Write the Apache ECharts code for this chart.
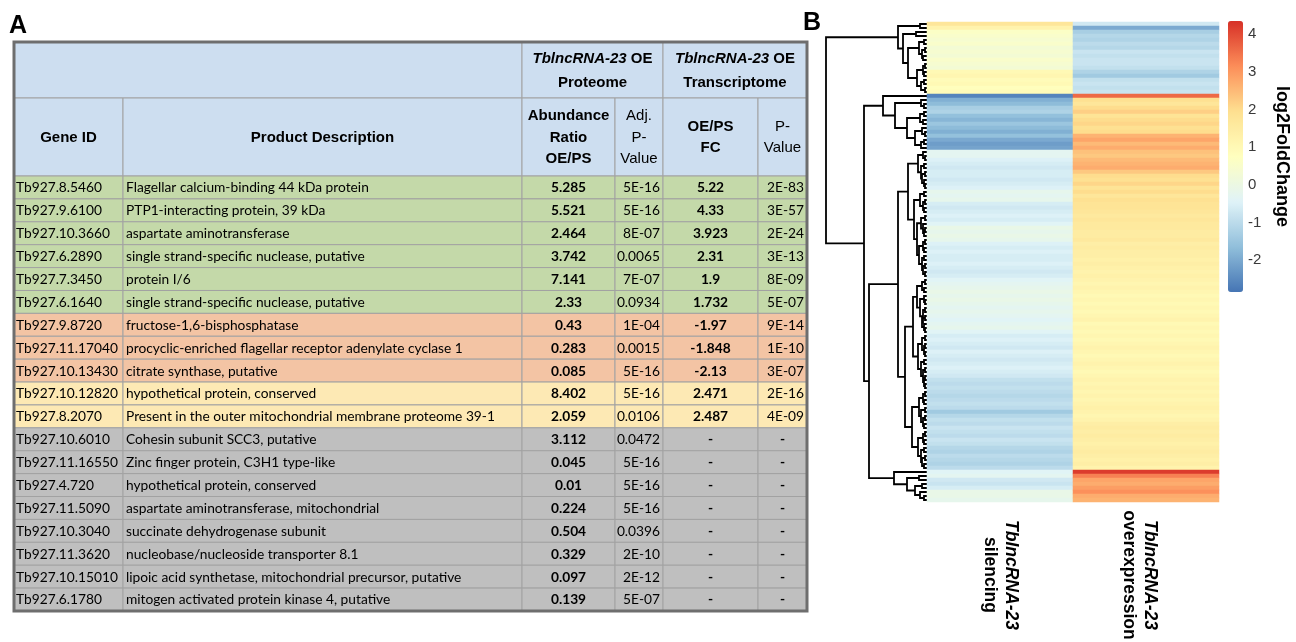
<!DOCTYPE html>
<html><head><meta charset="utf-8">
<script src="https://cdn.jsdelivr.net/npm/echarts@6/dist/echarts.min.js"></script>
<style>html,body{margin:0;padding:0;background:#fff}#c{width:1296px;height:642px}</style>
</head><body><div id="c"></div>
<script>
// ================= DATA =================
const geneIds = ['Tb927.8.5460','Tb927.9.6100','Tb927.10.3660','Tb927.6.2890','Tb927.7.3450','Tb927.6.1640',
  'Tb927.9.8720','Tb927.11.17040','Tb927.10.13430','Tb927.10.12820','Tb927.8.2070','Tb927.10.6010',
  'Tb927.11.16550','Tb927.4.720','Tb927.11.5090','Tb927.10.3040','Tb927.11.3620','Tb927.10.15010','Tb927.6.1780'];
const descriptions = ['Flagellar calcium-binding 44 kDa protein','PTP1-interacting protein, 39 kDa','aspartate aminotransferase',
  'single strand-specific nuclease, putative','protein I/6','single strand-specific nuclease, putative',
  'fructose-1,6-bisphosphatase','procyclic-enriched flagellar receptor adenylate cyclase 1','citrate synthase, putative',
  'hypothetical protein, conserved','Present in the outer mitochondrial membrane proteome 39-1','Cohesin subunit SCC3, putative',
  'Zinc finger protein, C3H1 type-like','hypothetical protein, conserved','aspartate aminotransferase, mitochondrial',
  'succinate dehydrogenase subunit','nucleobase/nucleoside transporter 8.1','lipoic acid synthetase, mitochondrial precursor, putative',
  'mitogen activated protein kinase 4, putative'];
const abundanceRatio = ['5.285','5.521','2.464','3.742','7.141','2.33','0.43','0.283','0.085','8.402','2.059','3.112','0.045','0.01','0.224','0.504','0.329','0.097','0.139'];
const adjPValue = ['5E-16','5E-16','8E-07','0.0065','7E-07','0.0934','1E-04','0.0015','5E-16','5E-16','0.0106','0.0472','5E-16','5E-16','5E-16','0.0396','2E-10','2E-12','5E-07'];
const oeFC = ['5.22','4.33','3.923','2.31','1.9','1.732','-1.97','-1.848','-2.13','2.471','2.487','-','-','-','-','-','-','-','-'];
const pValue = ['2E-83','3E-57','2E-24','3E-13','8E-09','5E-07','9E-14','1E-10','3E-07','2E-16','4E-09','-','-','-','-','-','-','-','-'];
const rowGroup = ['both','both','both','both','both','both','opp','opp','opp','mixed','mixed','prot','prot','prot','prot','prot','prot','prot','prot'];
const headerGroups = ['TblncRNA-23 OE\nProteome','TblncRNA-23 OE\nTranscriptome'];
const headerColumns = ['Gene ID','Product Description','Abundance\nRatio\nOE/PS','Adj.\nP-\nValue','OE/PS\nFC','P-\nValue'];

const heatmapColumns = ['TblncRNA-23\nsilencing','TblncRNA-23\noverexpression'];
const silencing = [
  1.7,1.2,0.6,0.5,0.4,0.5,0.3,0.4,0.3,0.5,0.4,0.3,1.0,1.1,0.9,1.0,0.8,0.9,
  -2.6,-1.9,-1.7,-1.3,-1.2,-1.6,-1.8,-1.5,-1.7,-1.9,-1.6,-2.0,-2.2,-2.1,
  -0.3,-0.3,-0.5,-0.6,-0.7,-0.6,-0.6,-0.7,-0.6,-0.5,-0.2,-0.3,-0.2,-0.6,-0.7,-0.6,-0.5,-0.6,-0.4,-0.1,
  -0.2,-0.1,-0.2,-0.5,-0.6,-0.5,-0.6,-0.6,-0.5,-0.6,-0.7,-0.6,-0.4,-0.3,-0.2,-0.1,-0.2,-0.1,-0.2,-0.3,
  -0.2,-0.3,-0.4,-0.3,-0.2,-0.4,-0.6,-0.5,-0.6,-0.7,-0.5,-0.6,-0.7,-0.6,-0.5,-0.6,-0.7,-0.9,-1.0,-0.9,
  -1.0,-1.1,-1.0,-0.9,-1.0,-1.4,-1.1,-0.9,-1.0,-0.8,-0.9,-1.0,-0.8,-0.9,-1.1,-1.2,-1.0,-1.1,-1.2,-1.0,
  -0.4,-0.3,-0.7,-0.8,-0.6,-0.1,-0.1,-0.2];
const overexpression = [
  -0.7,-2.0,-1.3,-1.1,-1.2,-1.0,-1.1,-0.8,-0.9,-0.8,-0.8,-0.9,-1.2,-1.4,-0.9,-0.8,-0.9,-0.8,
  3.6,1.9,1.7,2.0,2.2,1.8,2.0,2.1,1.9,2.0,
  2.6,2.8,2.5,2.7,2.4,2.3,2.5,2.6,2.7,2.3,
  2.0,1.9,2.1,1.8,2.0,1.7,1.9,1.8,1.8,1.7,1.6,1.7,1.6,1.6,1.5,1.5,1.6,1.4,1.5,1.4,1.4,1.3,1.4,
  1.3,1.2,1.3,1.2,1.1,1.2,1.1,1.0,1.1,1.0,1.1,1.0,1.1,1.2,1.0,1.1,1.0,1.1,1.0,1.1,1.2,1.1,1.0,1.1,1.2,
  1.1,1.0,1.1,1.2,1.1,1.2,1.1,1.2,1.1,1.2,1.3,1.2,1.1,1.2,1.4,1.5,1.4,1.5,1.4,1.3,1.4,1.5,1.4,1.3,1.4,1.2,
  4.2,3.3,2.8,2.7,2.9,3.1,2.7,2.6];
const colorbarTicks = [-2,-1,0,1,2,3,4];
// dendrogram: [mergeHeight, left, right]; leaves are heatmap row indices (top to bottom)
const dendrogram = [101,
  [29, [7,0,1],
       [24, [11,2,3],
            [19, [8,[3,4,5],[5,[2,6,7],[4,8,9]]],
                 [10,[4,[2,10,11],[3,12,13]],[6,[3,14,15],[2,16,17]]]]]],
  [63,
    [44, 18,
         [32, [6,19,[3,20,21]],
              [20, [7,[3,22,23],[4,24,25]],
                   [12,[5,26,[2,27,28]],[6,[3,29,30],31]]]]],
    [58,
      [29,
        [19,
          [9,[4,32,[2,33,34]],[6,[3,35,36],[5,[2,37,38],[3,39,[2,40,41]]]]],
          [13,
            [7,[3,42,43],[4,[2,44,45],[3,46,47]]],
            [10,
              [6,[2,48,49],[4,50,[3,[2,51,52],53]]],
              [8,[4,[2,54,55],[3,56,57]],[5,[3,58,59],[4,[2,60,61],[2,62,63]]]]]]],
        [22,
          [14,
            [10,[5,[2,64,65],[3,66,67]],[7,[3,68,[2,69,70]],[4,[2,71,72],[5,[2,73,74],[3,75,[2,76,77]]]]]],
            [9,[5,[2,78,79],[3,[2,80,81],[2,82,83]]],[6,[3,84,85],[4,[2,86,87],[3,[2,88,89],[2,90,91]]]]]],
          [15,
            [8,[4,[2,92,93],[3,94,95]],[6,[2,96,97],[4,[2,98,99],[3,100,101]]]],
            [9,[4,[2,102,103],[3,104,105]],[6,[3,106,107],[5,[2,108,109],[3,110,111]]]]]]],
      [33, 112, [20,[8,113,114],[12,[5,115,116],[7,117,[3,118,119]]]]]]]];

// ================= STYLE / LAYOUT =================
const GROUP_FILL = {both:'#c4d9a9', opp:'#f3c4a4', mixed:'#fde9b4', prot:'#bfbfbf'};
const HEADER_FILL = '#cddef0';
const GRID_LINE = '#a2a2a2';
const HFONT = '"Liberation Sans", Arial, sans-serif';
const BFONT = 'Lato, "Open Sans", sans-serif';
const TW = 793, TH = 569;
const COLS = [0, 109, 508, 601, 649, 744, 793];
const HEAD = [0, 56, 134];
const ROW_H = (TH - HEAD[2]) / geneIds.length;

const ctx = document.createElement('canvas').getContext('2d');
ctx.font = '100px Lato';
const bodySize = Math.min(15, 100 * 243 / ctx.measureText(descriptions[0]).width);

// ---- table cells ----
const cells = [];
const hdrRich = {i: {fontStyle:'italic', fontWeight:'bold', fontSize:15, fontFamily:HFONT, lineHeight:24}};
cells.push({x0:COLS[0], x1:COLS[2], y0:HEAD[0], y1:HEAD[1], fill:HEADER_FILL});
[[2,4],[4,6]].forEach(([a,b], k) => {
  cells.push({x0:COLS[a], x1:COLS[b], y0:HEAD[0], y1:HEAD[1], fill:HEADER_FILL,
    text: headerGroups[k].replace('TblncRNA-23','{i|TblncRNA-23}'), align:'center',
    font:{fontFamily:HFONT, fontWeight:'bold', fontSize:15, lineHeight:24}, rich:hdrRich});
});
const hdrBold = [true,true,true,false,true,false];
headerColumns.forEach((t, c) => {
  cells.push({x0:COLS[c], x1:COLS[c+1], y0:HEAD[1], y1:HEAD[2], fill:HEADER_FILL, text:t, align:'center',
    font:{fontFamily:HFONT, fontWeight:hdrBold[c]?'bold':'normal', fontSize:15, lineHeight: c===2||c===3 ? 21.5 : 20.5}});
});
geneIds.forEach((g, r) => {
  const y0 = HEAD[2] + r * ROW_H, y1 = y0 + ROW_H, fill = GROUP_FILL[rowGroup[r]];
  const vals = [g, descriptions[r], abundanceRatio[r], adjPValue[r], oeFC[r], pValue[r]];
  const aligns = ['left','left','center','right','center','right'];
  const bold = [false,false,true,false,true,false];
  vals.forEach((v, c) => {
    const al = v === '-' ? 'center' : aligns[c];
    cells.push({x0:COLS[c], x1:COLS[c+1], y0, y1, fill, text:v, align:al, pad: c===0 ? 2 : 3,
      font:{fontFamily:BFONT, fontWeight:bold[c]||v==='-'?'bold':'normal', fontSize:bodySize}});
  });
});

// ---- dendrogram layout ----
const merges = [];
let leafCount = 0;
function layoutTree(node) {
  if (typeof node === 'number') { leafCount++; return {h:0, y:node + 0.5}; }
  const l = layoutTree(node[1]), r = layoutTree(node[2]);
  merges.push([node[0], l.y, r.y, l.h, r.h]);
  return {h:node[0], y:(l.y + r.y) / 2};
}
layoutTree(dendrogram);
if (leafCount !== silencing.length || silencing.length !== overexpression.length) throw new Error('leaf mismatch ' + leafCount);

const heatData = [];
silencing.forEach((v, i) => heatData.push([0, i, v]));
overexpression.forEach((v, i) => heatData.push([1, i, v]));
const rowsCat = silencing.map((_, i) => String(i));

const chart = echarts.init(document.getElementById('c'), null, {renderer:'canvas'});
chart.setOption({
  animation: false,
  backgroundColor: '#fff',
  grid: [
    {left:14, top:42, width:TW, height:TH, outerBoundsMode:'none'},
    {left:825, top:22, width:102, height:480, outerBoundsMode:'none'},
    {left:927, top:22, width:292, height:480, outerBoundsMode:'none'},
    {left:1243, top:21, width:1, height:271, outerBoundsMode:'none'}
  ],
  xAxis: [
    {gridIndex:0, type:'value', min:0, max:TW, show:false},
    {gridIndex:1, type:'value', min:0, max:102, inverse:true, show:false},
    {gridIndex:2, type:'category', data: heatmapColumns,
      axisLine:{show:false}, axisTick:{show:false}, splitLine:{show:false},
      axisLabel:{interval:0, rotate:-90, align:'center', verticalAlign:'middle', margin:73,
        formatter: (v, idx) => { const p = v.split('\n'); return (idx === 1 ? '{s| }\n' : '') + '{i|' + p[0] + '}\n{n|' + p[1] + '}'; },
        rich:{i:{fontStyle:'italic', fontWeight:'bold', fontSize:17.5, fontFamily:HFONT, color:'#000', lineHeight:21},
              n:{fontWeight:'bold', fontSize:17.5, fontFamily:HFONT, color:'#000', lineHeight:21},
              s:{fontSize:2, lineHeight:14}}}},
    {gridIndex:3, type:'value', show:false}
  ],
  yAxis: [
    {gridIndex:0, type:'value', min:0, max:TH, inverse:true, show:false},
    {gridIndex:1, type:'value', min:0, max:silencing.length, inverse:true, show:false},
    {gridIndex:2, type:'category', data:rowsCat, inverse:true, show:false},
    {gridIndex:3, type:'value', min:-2.85, max:4.35, position:'right',
      axisLine:{show:false}, axisTick:{show:false}, splitLine:{show:false},
      axisLabel:{customValues:colorbarTicks, margin:4, color:'#3a3a3a', fontSize:15, fontFamily:HFONT},
      name:'log2FoldChange', nameLocation:'middle', nameRotate:-90, nameGap:29,
      nameTextStyle:{fontSize:18, fontWeight:'bold', color:'#000', fontFamily:HFONT}}
  ],
  visualMap: {
    type:'continuous', seriesIndex:2, min:-2.85, max:4.35, calculable:false, orient:'vertical',
    left:1228, top:21, itemWidth:15, itemHeight:271, padding:0, text:null, showLabel:false,
    inRange:{color:['#4575B4','#91BFDB','#E0F3F8','#FFFFBF','#FEE090','#FC8D59','#D73027']}
  },
  series: [
    { type:'custom', name:'table', xAxisIndex:0, yAxisIndex:0, silent:true, clip:false,
      data: cells.map(c => [c.x0, c.y0, c.x1, c.y1]),
      encode:{x:[0,2], y:[1,3]},
      renderItem: (params, api) => {
        const c = cells[params.dataIndex];
        const p0 = api.coord([api.value(0), api.value(1)]), p1 = api.coord([api.value(2), api.value(3)]);
        const ch = [{type:'rect', shape:{x:p0[0], y:p0[1], width:p1[0]-p0[0], height:p1[1]-p0[1]},
          style:{fill:c.fill, stroke:GRID_LINE, lineWidth:1}}];
        if (c.text != null) {
          const tx = c.align === 'left' ? p0[0] + c.pad : c.align === 'right' ? p1[0] - c.pad : (p0[0] + p1[0]) / 2;
          ch.push({type:'text', style:Object.assign({x:tx, y:(p0[1]+p1[1])/2 + 0.5, text:c.text, align:c.align,
            verticalAlign:'middle', fill:'#000', rich:c.rich}, c.font)});
        }
        return {type:'group', children:ch};
      }
    },
    { type:'custom', name:'dendrogram', xAxisIndex:1, yAxisIndex:1, silent:true, clip:false,
      data: merges, encode:{x:[0,3,4], y:[1,2]},
      renderItem: (params, api) => {
        const h = api.value(0), yl = api.value(1), yr = api.value(2), hl = api.value(3), hr = api.value(4);
        return {type:'polyline', shape:{points:[api.coord([hl,yl]), api.coord([h,yl]), api.coord([h,yr]), api.coord([hr,yr])]},
          style:{stroke:'#000', lineWidth:1.8, fill:null}};
      }
    },
    { type:'heatmap', name:'log2FoldChange', xAxisIndex:2, yAxisIndex:2, data:heatData, silent:true,
      itemStyle:{borderWidth:0} },
    { type:'custom', name:'tableBorder', xAxisIndex:0, yAxisIndex:0, silent:true, clip:false,
      data:[[0,0,TW,TH]], encode:{x:[0,2], y:[1,3]},
      renderItem: (params, api) => {
        const p0 = api.coord([api.value(0), api.value(1)]), p1 = api.coord([api.value(2), api.value(3)]);
        return {type:'rect', shape:{x:p0[0], y:p0[1], width:p1[0]-p0[0], height:p1[1]-p0[1]},
          style:{fill:null, stroke:'#6e6e6e', lineWidth:3}};
      }
    }
  ],
  graphic: [
    {type:'text', left:9, top:14, style:{text:'A', font:'bold 25px ' + HFONT, fill:'#000'}},
    {type:'text', left:803, top:11, style:{text:'B', font:'bold 25px ' + HFONT, fill:'#000'}}
  ]
});
</script></body></html>
